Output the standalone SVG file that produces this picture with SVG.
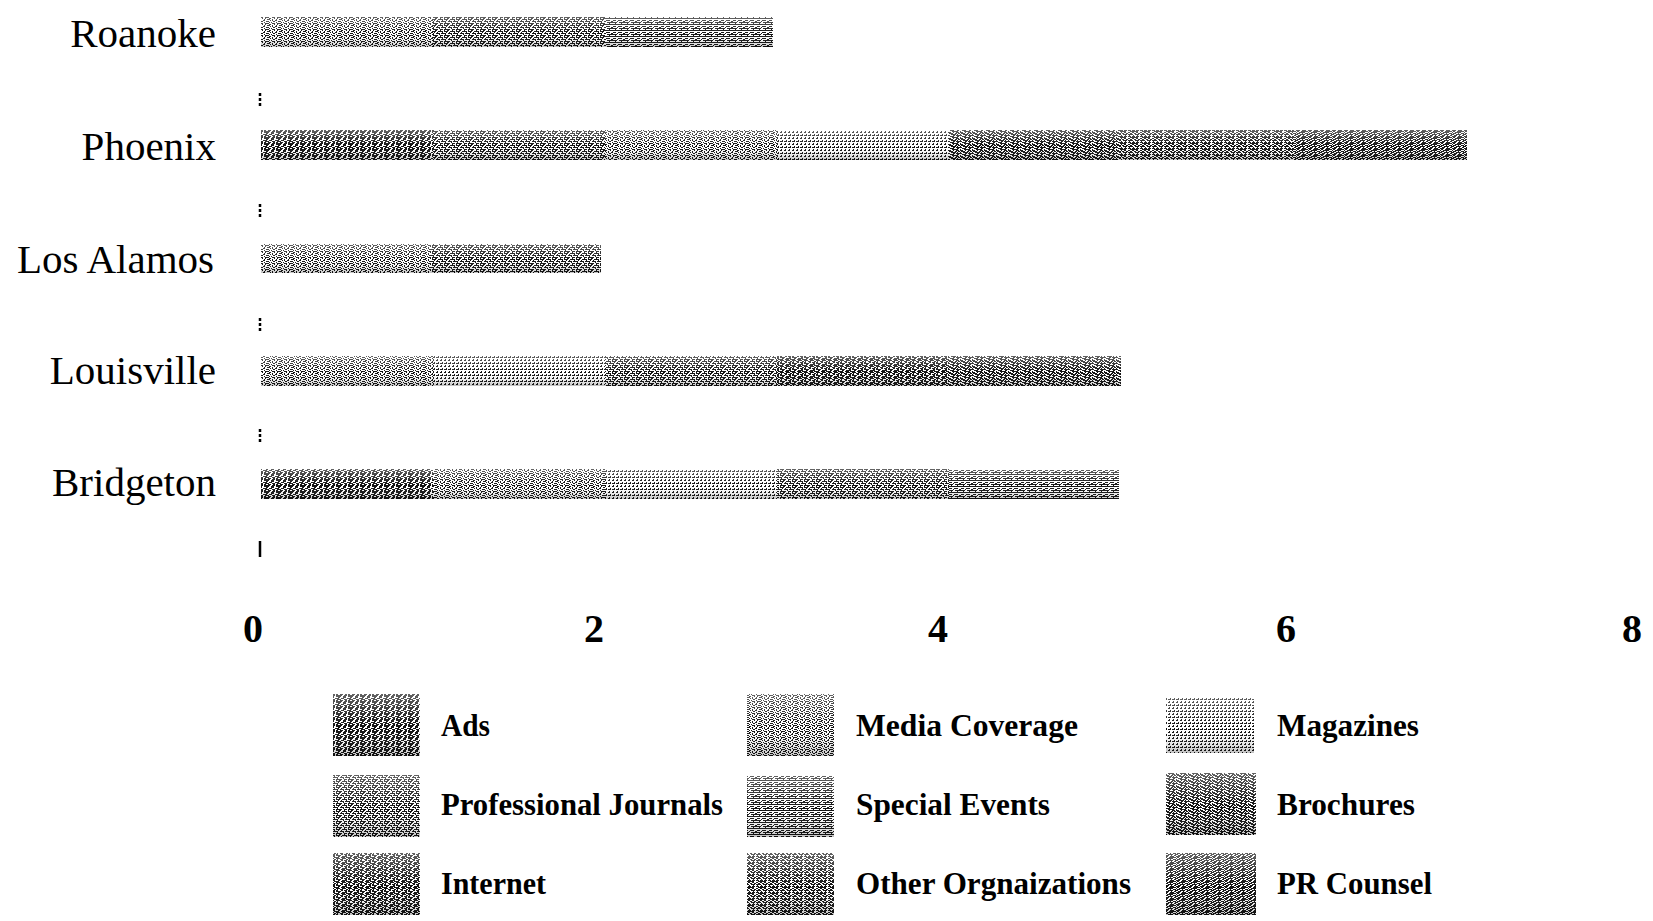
<svg xmlns="http://www.w3.org/2000/svg" width="1653" height="921" viewBox="0 0 1653 921">
<style>
.cat{font-family:"Liberation Serif","Times New Roman",serif;font-size:41px;fill:#000;text-anchor:end}
.tick{font-family:"Liberation Serif","Times New Roman",serif;font-size:40px;font-weight:bold;fill:#000;text-anchor:middle}
.leg{font-family:"Liberation Serif","Times New Roman",serif;font-size:32px;font-weight:bold;fill:#000}
.px{fill:#111}
.shade{fill:url(#shade)}
.axis{stroke:#000;stroke-width:2.5;stroke-dasharray:3 2}
</style>
<defs>
<linearGradient id="shade" x1="0" y1="0" x2="0" y2="1">
<stop offset="0" stop-color="#fff" stop-opacity="0.35"/>
<stop offset="0.55" stop-color="#fff" stop-opacity="0"/>
<stop offset="1" stop-color="#000" stop-opacity="0.25"/>
</linearGradient>
<pattern id="p-ads" width="12" height="6" patternUnits="userSpaceOnUse"><rect width="12" height="6" fill="#fff"/><path class="px" d="M0 0h5v1h-5zM7 0h3v1h-3zM2 1h2v1h-2zM7 1h3v1h-3zM0 2h3v1h-3zM5 2h3v1h-3zM11 2h1v1h-1zM1 3h4v1h-4zM8 3h3v1h-3zM0 4h2v1h-2zM4 4h3v1h-3zM9 4h2v1h-2zM0 5h6v1h-6zM8 5h3v1h-3z"/></pattern>
<pattern id="p-media" width="12" height="6" patternUnits="userSpaceOnUse"><rect width="12" height="6" fill="#fff"/><path class="px" d="M1 0h1v1h-1zM5 0h2v1h-2zM10 0h1v1h-1zM0 1h1v2h-1zM3 1h3v1h-3zM8 1h1v2h-1zM6 2h1v1h-1zM11 2h1v1h-1zM2 3h3v1h-3zM9 3h2v1h-2zM0 4h1v1h-1zM5 4h1v1h-1zM7 4h1v1h-1zM1 5h4v1h-4zM8 5h3v1h-3z"/></pattern>
<pattern id="p-mag" width="8" height="6" patternUnits="userSpaceOnUse"><rect width="8" height="6" fill="#fff"/><path class="px" d="M0 0h2v1h-2zM4 0h2v1h-2zM2 2h1v1h-1zM6 2h1v1h-1zM0 3h3v1h-3zM4 3h3v1h-3zM1 5h1v1h-1zM5 5h1v1h-1z"/></pattern>
<pattern id="p-pj" width="12" height="6" patternUnits="userSpaceOnUse"><rect width="12" height="6" fill="#fff"/><path class="px" d="M0 0h1v1h-1zM3 0h2v1h-2zM8 0h1v1h-1zM0 1h4v1h-4zM6 1h5v1h-5zM2 2h1v1h-1zM5 2h1v1h-1zM10 2h1v1h-1zM0 3h2v1h-2zM4 3h4v1h-4zM9 3h3v1h-3zM1 4h1v1h-1zM7 4h1v1h-1zM0 5h6v1h-6zM8 5h3v1h-3z"/></pattern>
<pattern id="p-se" width="12" height="6" patternUnits="userSpaceOnUse"><rect width="12" height="6" fill="#fff"/><path class="px" d="M0 0h12v1h-12zM1 2h3v1h-3zM6 2h4v1h-4zM0 3h1v1h-1zM5 3h1v1h-1zM11 3h1v1h-1zM0 4h5v1h-5zM7 4h5v1h-5zM3 5h1v1h-1zM9 5h1v1h-1z"/></pattern>
<pattern id="p-bro" width="12" height="6" patternUnits="userSpaceOnUse"><rect width="12" height="6" fill="#fff"/><path class="px" d="M0 0h3v1h-3zM5 0h1v1h-1zM8 0h3v1h-3zM1 1h4v1h-4zM7 1h2v1h-2zM10 1h2v1h-2zM0 2h1v1h-1zM3 2h5v1h-5zM9 2h1v1h-1zM0 3h2v1h-2zM5 3h2v1h-2zM8 3h4v1h-4zM2 4h4v1h-4zM9 4h2v1h-2zM0 5h1v1h-1zM4 5h6v1h-6z"/></pattern>
<pattern id="p-int" width="12" height="6" patternUnits="userSpaceOnUse"><rect width="12" height="6" fill="#fff"/><path class="px" d="M0 0h4v1h-4zM6 0h4v1h-4zM1 1h1v1h-1zM4 1h3v1h-3zM10 1h2v1h-2zM0 2h2v1h-2zM5 2h2v1h-2zM8 2h3v1h-3zM0 3h5v1h-5zM9 3h2v1h-2zM2 4h2v1h-2zM6 4h5v1h-5zM0 5h3v1h-3zM5 5h4v1h-4zM10 5h2v1h-2z"/></pattern>
<pattern id="p-oo" width="12" height="6" patternUnits="userSpaceOnUse"><rect width="12" height="6" fill="#fff"/><path class="px" d="M0 0h2v1h-2zM4 0h2v1h-2zM8 0h2v1h-2zM2 1h2v1h-2zM6 1h2v1h-2zM10 1h2v1h-2zM0 2h5v1h-5zM7 2h4v1h-4zM1 3h1v1h-1zM5 3h1v1h-1zM9 3h1v1h-1zM0 4h3v1h-3zM4 4h3v1h-3zM8 4h3v1h-3zM2 5h8v1h-8z"/></pattern>
<pattern id="p-pr" width="12" height="6" patternUnits="userSpaceOnUse"><rect width="12" height="6" fill="#fff"/><path class="px" d="M0 0h1v1h-1zM3 0h6v1h-6zM1 1h3v1h-3zM6 1h1v1h-1zM9 1h3v1h-3zM0 2h2v1h-2zM4 2h5v1h-5zM11 2h1v1h-1zM2 3h3v1h-3zM7 3h1v1h-1zM10 3h2v1h-2zM0 4h4v1h-4zM6 4h4v1h-4zM1 5h2v1h-2zM5 5h7v1h-7z"/></pattern>
</defs>
<rect width="1653" height="921" fill="#fff"/>

<g id="category-labels">
<text class="cat" x="216" y="47">Roanoke</text>
<text class="cat" x="216" y="160">Phoenix</text>
<text class="cat" x="214" y="273">Los Alamos</text>
<text class="cat" x="216" y="384">Louisville</text>
<text class="cat" x="216" y="496">Bridgeton</text>
</g>

<g id="axis-ticks">
<line class="axis" x1="260" y1="93" x2="260" y2="106"/>
<line class="axis" x1="260" y1="204" x2="260" y2="217"/>
<line class="axis" x1="260" y1="318" x2="260" y2="331"/>
<line class="axis" x1="260" y1="429" x2="260" y2="443"/>
<line x1="260" y1="541" x2="260" y2="557" stroke="#000" stroke-width="2.5"/>
</g>

<g id="bar-roanoke">
<rect x="261" y="17" width="172" height="30" fill="url(#p-media)"/>
<rect x="433" y="17" width="172" height="30" fill="url(#p-pj)"/>
<rect x="605" y="17" width="168" height="30" fill="url(#p-se)"/>
<rect class="shade" x="261" y="17" width="512" height="30"/>
</g>
<g id="bar-phoenix">
<rect x="261" y="130" width="172" height="30" fill="url(#p-ads)"/>
<rect x="433" y="130" width="172" height="30" fill="url(#p-pj)"/>
<rect x="605" y="130" width="172" height="30" fill="url(#p-media)"/>
<rect x="777" y="130" width="172" height="30" fill="url(#p-mag)"/>
<rect x="949" y="130" width="172" height="30" fill="url(#p-bro)"/>
<rect x="1121" y="130" width="172" height="30" fill="url(#p-oo)"/>
<rect x="1293" y="130" width="174" height="30" fill="url(#p-pr)"/>
<rect class="shade" x="261" y="130" width="1206" height="30"/>
</g>
<g id="bar-los-alamos">
<rect x="261" y="244" width="170" height="29" fill="url(#p-media)"/>
<rect x="431" y="244" width="170" height="29" fill="url(#p-pj)"/>
<rect class="shade" x="261" y="244" width="340" height="29"/>
</g>
<g id="bar-louisville">
<rect x="261" y="356" width="172" height="30" fill="url(#p-media)"/>
<rect x="433" y="356" width="172" height="30" fill="url(#p-mag)"/>
<rect x="605" y="356" width="172" height="30" fill="url(#p-pj)"/>
<rect x="777" y="356" width="172" height="30" fill="url(#p-int)"/>
<rect x="949" y="356" width="172" height="30" fill="url(#p-bro)"/>
<rect class="shade" x="261" y="356" width="860" height="30"/>
</g>
<g id="bar-bridgeton">
<rect x="261" y="469" width="172" height="30" fill="url(#p-ads)"/>
<rect x="433" y="469" width="172" height="30" fill="url(#p-media)"/>
<rect x="605" y="469" width="172" height="30" fill="url(#p-mag)"/>
<rect x="777" y="469" width="172" height="30" fill="url(#p-pj)"/>
<rect x="949" y="469" width="170" height="30" fill="url(#p-se)"/>
<rect class="shade" x="261" y="469" width="858" height="30"/>
</g>

<g id="x-axis-labels">
<text class="tick" x="253" y="642">0</text>
<text class="tick" x="594" y="642">2</text>
<text class="tick" x="938" y="642">4</text>
<text class="tick" x="1286" y="642">6</text>
<text class="tick" x="1632" y="642">8</text>
</g>

<g id="legend">
<g id="legend-ads"><rect x="333" y="694" width="87" height="62" fill="url(#p-ads)"/><rect class="shade" x="333" y="694" width="87" height="62"/><text class="leg" x="441" y="736" textLength="49" lengthAdjust="spacingAndGlyphs">Ads</text></g>
<g id="legend-pj"><rect x="333" y="775" width="87" height="62" fill="url(#p-pj)"/><rect class="shade" x="333" y="775" width="87" height="62"/><text class="leg" x="441" y="815" textLength="282" lengthAdjust="spacingAndGlyphs">Professional Journals</text></g>
<g id="legend-internet"><rect x="333" y="853" width="87" height="62" fill="url(#p-int)"/><rect class="shade" x="333" y="853" width="87" height="62"/><text class="leg" x="441" y="894" textLength="105" lengthAdjust="spacingAndGlyphs">Internet</text></g>
<g id="legend-media"><rect x="747" y="694" width="87" height="62" fill="url(#p-media)"/><rect class="shade" x="747" y="694" width="87" height="62"/><text class="leg" x="856" y="736" textLength="222" lengthAdjust="spacingAndGlyphs">Media Coverage</text></g>
<g id="legend-se"><rect x="747" y="775" width="87" height="62" fill="url(#p-se)"/><rect class="shade" x="747" y="775" width="87" height="62"/><text class="leg" x="856" y="815" textLength="194" lengthAdjust="spacingAndGlyphs">Special Events</text></g>
<g id="legend-oo"><rect x="747" y="853" width="87" height="62" fill="url(#p-oo)"/><rect class="shade" x="747" y="853" width="87" height="62"/><text class="leg" x="856" y="894" textLength="275" lengthAdjust="spacingAndGlyphs">Other Orgnaizations</text></g>
<g id="legend-mag"><rect x="1166" y="697" width="88" height="56" fill="url(#p-mag)"/><rect class="shade" x="1166" y="697" width="88" height="56"/><text class="leg" x="1277" y="736" textLength="142" lengthAdjust="spacingAndGlyphs">Magazines</text></g>
<g id="legend-bro"><rect x="1166" y="773" width="90" height="62" fill="url(#p-bro)"/><rect class="shade" x="1166" y="773" width="90" height="62"/><text class="leg" x="1277" y="815" textLength="138" lengthAdjust="spacingAndGlyphs">Brochures</text></g>
<g id="legend-pr"><rect x="1166" y="853" width="90" height="62" fill="url(#p-pr)"/><rect class="shade" x="1166" y="853" width="90" height="62"/><text class="leg" x="1277" y="894" textLength="155" lengthAdjust="spacingAndGlyphs">PR Counsel</text></g>
</g>
</svg>
